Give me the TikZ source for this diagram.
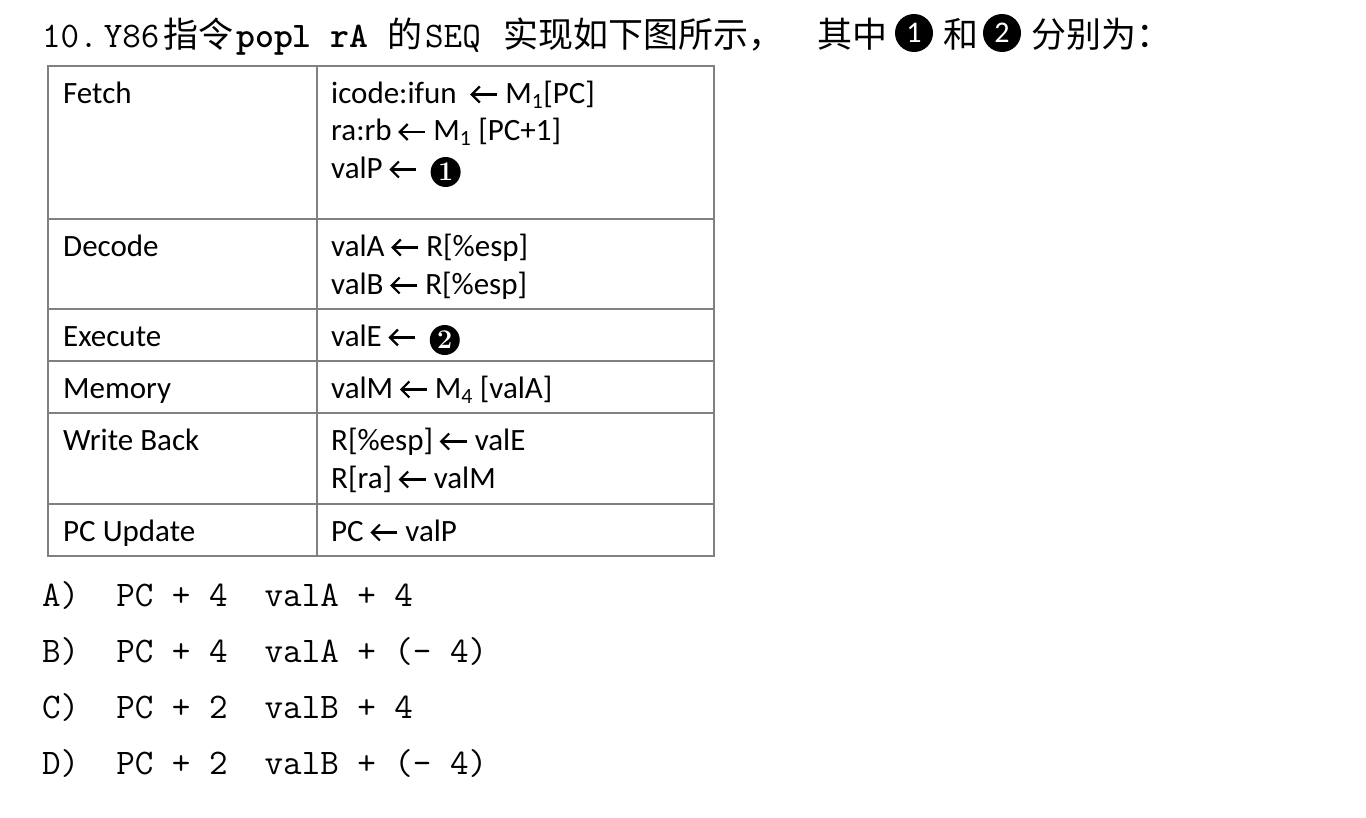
\documentclass[tikz,border=0pt]{standalone}
\usepackage{fontspec}
\newfontfamily\calfont{Carlito}
\newfontfamily\cjk{Noto Sans CJK SC}
\definecolor{tblgray}{RGB}{128,128,128}
\newcommand\larr{\tikz[x=1pt,y=1pt,baseline=0pt,line width=2.2pt]{\draw (27,8.5)--(1.5,8.5); \draw[line join=miter] (9.5,0.5)--(1.5,8.5)--(9.5,16.5);}}
\tikzset{
  tblline/.style={draw=tblgray, line width=2pt},
  cell/.style={anchor=base west, inner sep=0pt, font=\calfont\fontsize{31}{37}\selectfont},
  ttl/.style={anchor=base west, inner sep=0pt, font=\ttfamily\fontsize{36}{40}\selectfont},
  cjkt/.style={anchor=base west, inner sep=0pt, font=\cjk\fontsize{35}{40}\selectfont},
  boldtt/.style={anchor=base west, inner sep=0pt, font=\ttfamily\bfseries\fontsize{36}{40}\selectfont},
  opt/.style={anchor=base west, inner sep=0pt, font=\ttfamily\fontsize{36}{40}\selectfont},
  bigc/.style={circle, fill=black, text=white, minimum size=38pt, inner sep=0pt, font=\calfont\fontsize{30}{30}\selectfont},
  smallc/.style={circle, fill=black, text=white, minimum size=30pt, inner sep=0pt, font=\bfseries\fontsize{27}{27}\selectfont},
}
\begin{document}
\begin{tikzpicture}[x=1pt, y=-1pt]
\useasboundingbox (0,0) rectangle (1366,817);
\fill[white] (0,0) rectangle (1366,817);
% title
\node[ttl]    (ta) at (42,47)  {10.\hspace{6pt}Y86};
\node[cjkt]   (tb) at (163,47) {指令};
\node[boldtt] (tc) at (236,47) {popl rA};
\node[cjkt]   (td) at (387,47) {的};
\node[ttl]    (te) at (425,47) {SEQ};
\node[cjkt]   (tf) at (503,47) {实现如下图所示，};
\node[cjkt]   (tg) at (817,47) {其中};
\node[bigc]   (c1) at (914,33) {1};
\node[cjkt]   (th) at (943,47) {和};
\node[bigc]   (c2) at (1002,33) {2};
\node[cjkt]   (ti) at (1031,47) {分别为：};
% table
\draw[tblline] (48,66) rectangle (714,556);
\draw[tblline] (317,66) -- (317,556);
\foreach \yy in {219,309,361,413,504} \draw[tblline] (48,\yy) -- (714,\yy);
\node[cell] (h1) at (63,103)  {Fetch};
\node[cell] (f1) at (331,103) {icode:ifun~~\larr{} M\textsubscript{1}[PC]};
\node[cell] (f2) at (331,140.5) {ra:rb \larr{} M\textsubscript{1} [PC+1]};
\node[cell] (f3) at (331,178) {valP \larr};
\node[smallc] (n1) at ([xshift=28pt,yshift=6pt]f3.base east) {1};
\node[cell] (h2) at (63,256)  {Decode};
\node[cell] (d1) at (331,256) {valA \larr{} R[\%esp]};
\node[cell] (d2) at (331,294) {valB \larr{} R[\%esp]};
\node[cell] (h3) at (63,346)  {Execute};
\node[cell] (e1) at (331,346) {valE \larr};
\node[smallc] (n2) at ([xshift=28pt,yshift=6pt]e1.base east) {2};
\node[cell] (h4) at (63,398)  {Memory};
\node[cell] (m1) at (331,398) {valM \larr{} M\textsubscript{4} [valA]};
\node[cell] (h5) at (63,450)  {Write Back};
\node[cell] (w1) at (331,450) {R[\%esp] \larr{} valE};
\node[cell] (w2) at (331,488) {R[ra] \larr{} valM};
\node[cell] (h6) at (63,541)  {PC Update};
\node[cell] (p1) at (331,541) {PC \larr{} valP};
% options
\node[opt] (oa) at (42,606) {A)~~PC~+~4~~valA~+~4};
\node[opt] (ob) at (42,662) {B)~~PC~+~4~~valA~+~(-~4)};
\node[opt] (oc) at (42,718) {C)~~PC~+~2~~valB~+~4};
\node[opt] (od) at (42,774) {D)~~PC~+~2~~valB~+~(-~4)};
\end{tikzpicture}
\end{document}
